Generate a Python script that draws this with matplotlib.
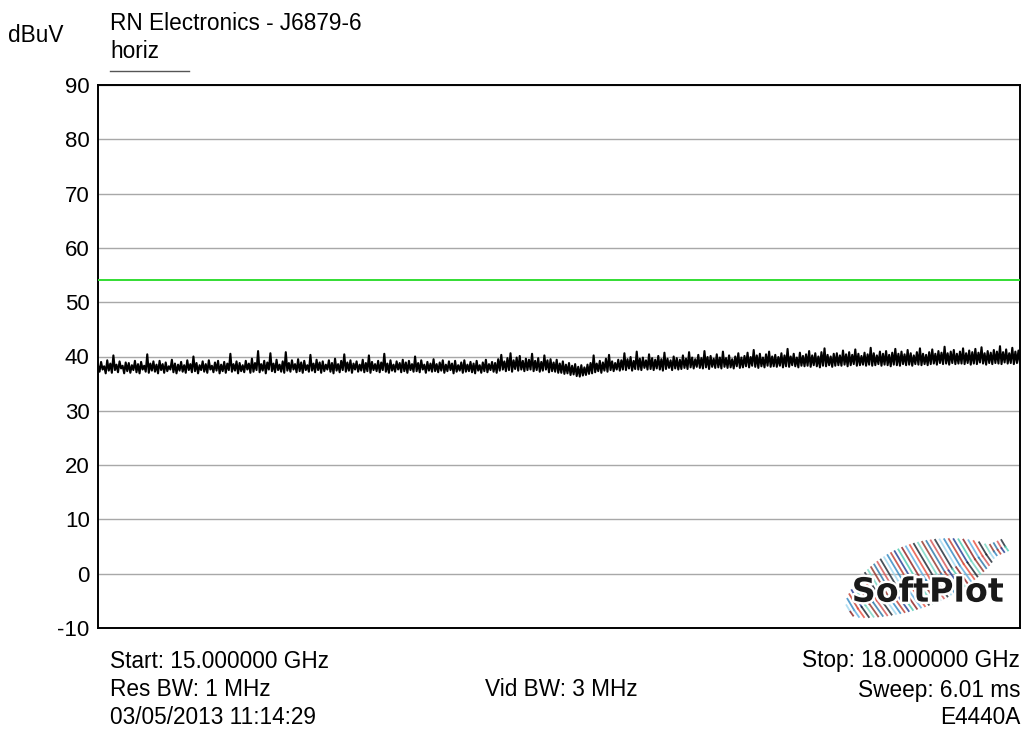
import numpy as np
import matplotlib
matplotlib.use("Agg")
import matplotlib.pyplot as plt
from matplotlib import patheffects as pe

plt.rcParams['font.family'] = ['Liberation Sans', 'DejaVu Sans']
plt.rcParams['axes.unicode_minus'] = False

# ---- data ----
title = "RN Electronics - J6879-6"
trace_name = "horiz"
y_unit = "dBuV"
f_start, f_stop = 15.0, 18.0   # GHz
limit_level = 54.0             # dBuV
y_ticks = [-10, 0, 10, 20, 30, 40, 50, 60, 70, 80, 90]

trace = [
    38.4,37.2,39.0,37.6,38.2,36.9,39.3,37.4,38.7,37.0,40.2,37.5,38.5,37.1,39.1,37.8,38.3,36.9,38.9,37.3,
    38.8,37.0,38.4,37.5,39.2,37.1,38.6,36.9,39.0,37.6,38.3,37.2,40.4,37.0,38.7,37.4,39.1,37.2,38.5,36.9,
    39.2,37.5,38.6,37.0,38.9,37.3,38.2,37.6,39.4,37.1,38.7,36.9,38.5,37.4,39.0,37.2,38.4,37.0,39.3,37.5,
    38.6,37.1,40.0,37.3,38.8,36.9,38.4,37.5,39.1,37.2,38.6,37.0,39.3,37.6,38.3,37.1,38.9,37.4,39.2,36.9,
    38.5,37.3,39.0,37.0,38.7,37.5,40.5,37.2,38.6,37.4,39.1,36.9,38.8,37.3,38.4,37.1,39.2,37.6,38.7,37.0,
    39.6,37.2,38.8,37.5,41.0,37.1,38.6,37.4,39.2,36.9,38.9,37.6,40.6,37.3,38.7,37.1,39.4,37.5,38.5,37.2,
    39.1,37.0,40.8,37.4,38.8,37.2,39.3,37.6,38.6,37.1,39.5,37.3,38.9,37.0,39.2,37.5,38.4,37.2,40.3,37.4,
    38.7,37.1,39.4,37.5,38.9,37.0,39.1,37.3,38.5,37.6,39.3,37.2,38.8,36.9,39.6,37.4,38.6,37.1,39.2,37.5,
    40.4,37.2,38.9,37.4,39.3,37.0,38.7,37.6,39.1,37.2,38.5,37.4,39.4,37.1,38.8,37.3,40.2,37.0,39.0,37.5,
    38.6,37.3,39.2,37.1,38.9,37.5,40.5,37.2,38.7,37.0,39.3,37.4,38.5,37.2,39.1,37.6,38.8,37.1,39.4,37.3,
    38.9,37.0,39.2,37.5,38.6,37.2,40.0,37.3,38.8,37.1,39.3,37.6,38.5,37.0,39.0,37.4,38.7,37.2,39.5,37.3,
    38.6,37.1,38.9,37.4,39.3,37.0,38.5,37.3,39.1,37.5,38.7,36.9,39.2,37.2,38.4,37.4,38.9,37.0,39.3,37.2,
    38.5,37.3,39.0,37.1,38.7,36.9,39.2,37.4,38.4,37.0,38.9,37.3,39.4,37.1,38.6,37.5,39.0,37.2,38.8,37.0,
    39.5,37.4,40.3,37.6,39.1,37.3,39.7,37.5,40.6,37.2,39.3,37.7,39.8,37.4,40.1,37.6,39.2,37.3,39.6,37.5,
    39.4,37.6,40.5,37.3,39.2,37.5,39.7,37.2,39.0,37.4,40.2,37.6,39.3,37.1,39.5,37.3,38.9,37.2,39.4,37.0,
    38.7,37.0,39.1,36.8,38.5,36.9,38.8,36.6,38.3,36.7,38.6,36.4,38.1,36.3,38.4,36.5,38.0,36.6,38.5,36.8,
    38.8,36.9,40.2,37.1,38.7,37.3,39.2,37.0,38.9,37.4,39.6,37.2,40.3,37.5,39.1,37.3,38.8,37.6,39.4,37.4,
    39.3,37.6,40.6,37.5,39.5,37.8,39.9,37.4,39.2,37.7,40.9,37.6,39.6,37.5,39.8,37.9,39.3,37.6,40.4,37.7,
    39.7,37.5,39.4,37.8,40.1,37.6,39.5,37.4,40.7,37.7,39.6,37.9,39.3,37.5,40.0,37.8,39.7,37.6,39.4,37.7,
    40.2,37.9,39.6,37.7,40.8,38.0,39.8,37.8,39.5,38.1,40.3,37.9,39.7,37.8,41.0,38.0,39.9,37.7,40.1,38.1,
    39.6,37.9,40.4,38.0,39.8,37.8,40.9,38.1,39.7,37.9,40.2,38.0,39.5,37.8,40.0,38.2,40.6,37.9,39.8,38.0,
    40.1,38.2,40.7,38.0,39.9,38.3,41.2,38.1,40.2,37.9,40.5,38.2,39.8,38.0,40.4,38.3,40.9,38.1,40.0,38.2,
    40.3,38.1,39.9,38.3,40.6,38.0,40.2,38.2,41.4,38.1,40.0,38.4,40.5,38.2,39.8,38.0,40.7,38.3,40.1,38.2,
    40.4,38.3,41.0,38.1,40.2,38.4,40.6,38.2,40.0,38.0,40.8,38.3,41.5,38.2,40.3,38.4,40.0,38.1,40.5,38.3,
    40.6,38.4,40.2,38.3,41.1,38.5,40.4,38.2,40.8,38.4,40.3,38.6,41.3,38.3,40.5,38.4,40.1,38.5,40.7,38.3,
    40.4,38.5,41.6,38.3,40.6,38.4,40.2,38.6,40.9,38.3,40.5,38.5,41.0,38.4,40.3,38.2,40.7,38.5,41.4,38.4,
    40.5,38.3,40.9,38.6,40.4,38.4,41.2,38.5,40.6,38.3,40.2,38.6,40.8,38.5,41.5,38.4,40.5,38.6,40.3,38.4,
    40.8,38.6,41.3,38.7,40.5,38.5,41.0,38.8,40.7,38.6,41.8,38.7,40.6,38.5,40.9,38.8,41.2,38.6,40.5,38.7,
    40.9,38.7,41.5,38.6,40.6,38.8,41.1,38.5,40.8,38.7,41.4,38.6,40.7,38.9,41.7,38.7,40.6,38.5,41.0,38.8,
    40.7,38.6,41.2,38.8,40.9,38.7,41.9,38.6,40.8,38.9,41.3,38.7,40.6,38.8,41.6,38.6,40.9,38.8,41.1,38.7,
]
freqs = np.linspace(f_start, f_stop, len(trace))

footer_left = ["Start: 15.000000 GHz", "Res BW: 1 MHz", "03/05/2013 11:14:29"]
footer_mid = ["", "Vid BW: 3 MHz", ""]
footer_right = ["Stop: 18.000000 GHz", "Sweep: 6.01 ms", "E4440A"]

# ---- figure ----
W, H = 1022, 733
fig = plt.figure(figsize=(W / 100, H / 100), dpi=100)
ax = fig.add_axes([98 / W, 1 - 628 / H, (1020 - 98) / W, (628 - 85) / H])

ax.set_xlim(f_start, f_stop)
ax.set_ylim(-10, 90)
ax.set_yticks(y_ticks)
ax.set_xticks([])
ax.tick_params(axis='y', length=0, pad=6, labelsize=16)
for s in ax.spines.values():
    s.set_linewidth(1.4)
    s.set_color('black')
ax.grid(axis='y', color='#a8a8a8', linewidth=1.0)
ax.set_axisbelow(True)

ax.axhline(limit_level, color='#33dd33', linewidth=1.4, zorder=3)
ax.plot(freqs, trace, color='black', linewidth=1.5, zorder=4)

# logo (decorative feather + text)
feather_colors = ['#9fd8f0', '#2e86c1', '#c0392b', '#1f3a93', '#48c9b0',
                  '#8e1b1b', '#5dade2', '#e74c3c', '#17202a', '#76d7c4',
                  '#943126', '#2874a6', '#d35454', '#1b2631']
sx0, sy0 = 0.816, 0.030
sx1, sy1 = 0.984, 0.150
n = 42
for i in range(n):
    t = i / (n - 1)
    px = sx0 + t * (sx1 - sx0)
    py = sy0 + t * (sy1 - sy0)
    ln = 0.012 + 0.05 * np.sin(np.pi * min(1.0, t * 1.1)) ** 0.7
    c = feather_colors[i % len(feather_colors)]
    ax.plot([px, px - 0.35 * ln], [py, py + ln], transform=ax.transAxes,
            color=c, linewidth=1.3, alpha=0.8, zorder=5)
    ax.plot([px, px + 0.25 * ln], [py, py - 0.6 * ln], transform=ax.transAxes,
            color=feather_colors[(i + 5) % len(feather_colors)], linewidth=1.3,
            alpha=0.8, zorder=5)
ax.text(0.900, 0.066, "SoftPlot", transform=ax.transAxes, ha='center', va='center',
        fontsize=24, fontweight='bold', color='#1a1a1a', family='DejaVu Sans',
        path_effects=[pe.withStroke(linewidth=3.5, foreground='white')], zorder=6)

# header texts
fs = 16.3
fig.text(110 / W, 1 - 23 / H, title, ha='left', va='center', fontsize=fs)
fig.text(110 / W, 1 - 52 / H, trace_name, ha='left', va='center', fontsize=fs)
fig.text(8 / W, 1 - 35 / H, y_unit, ha='left', va='center', fontsize=fs)
fig.add_artist(plt.Line2D([110 / W, 189 / W], [1 - 71 / H, 1 - 71 / H],
                          color='#555555', linewidth=1.0))

# footer texts
rows_y = [661, 690, 718]
for i, yy in enumerate(rows_y):
    fig.text(110 / W, 1 - yy / H, footer_left[i], ha='left', va='center', fontsize=fs)
    if footer_mid[i]:
        fig.text(561 / W, 1 - yy / H, footer_mid[i], ha='center', va='center', fontsize=fs)
    fig.text(1020 / W, 1 - yy / H, footer_right[i], ha='right', va='center', fontsize=fs)

fig.savefig("out.png", dpi=100)
